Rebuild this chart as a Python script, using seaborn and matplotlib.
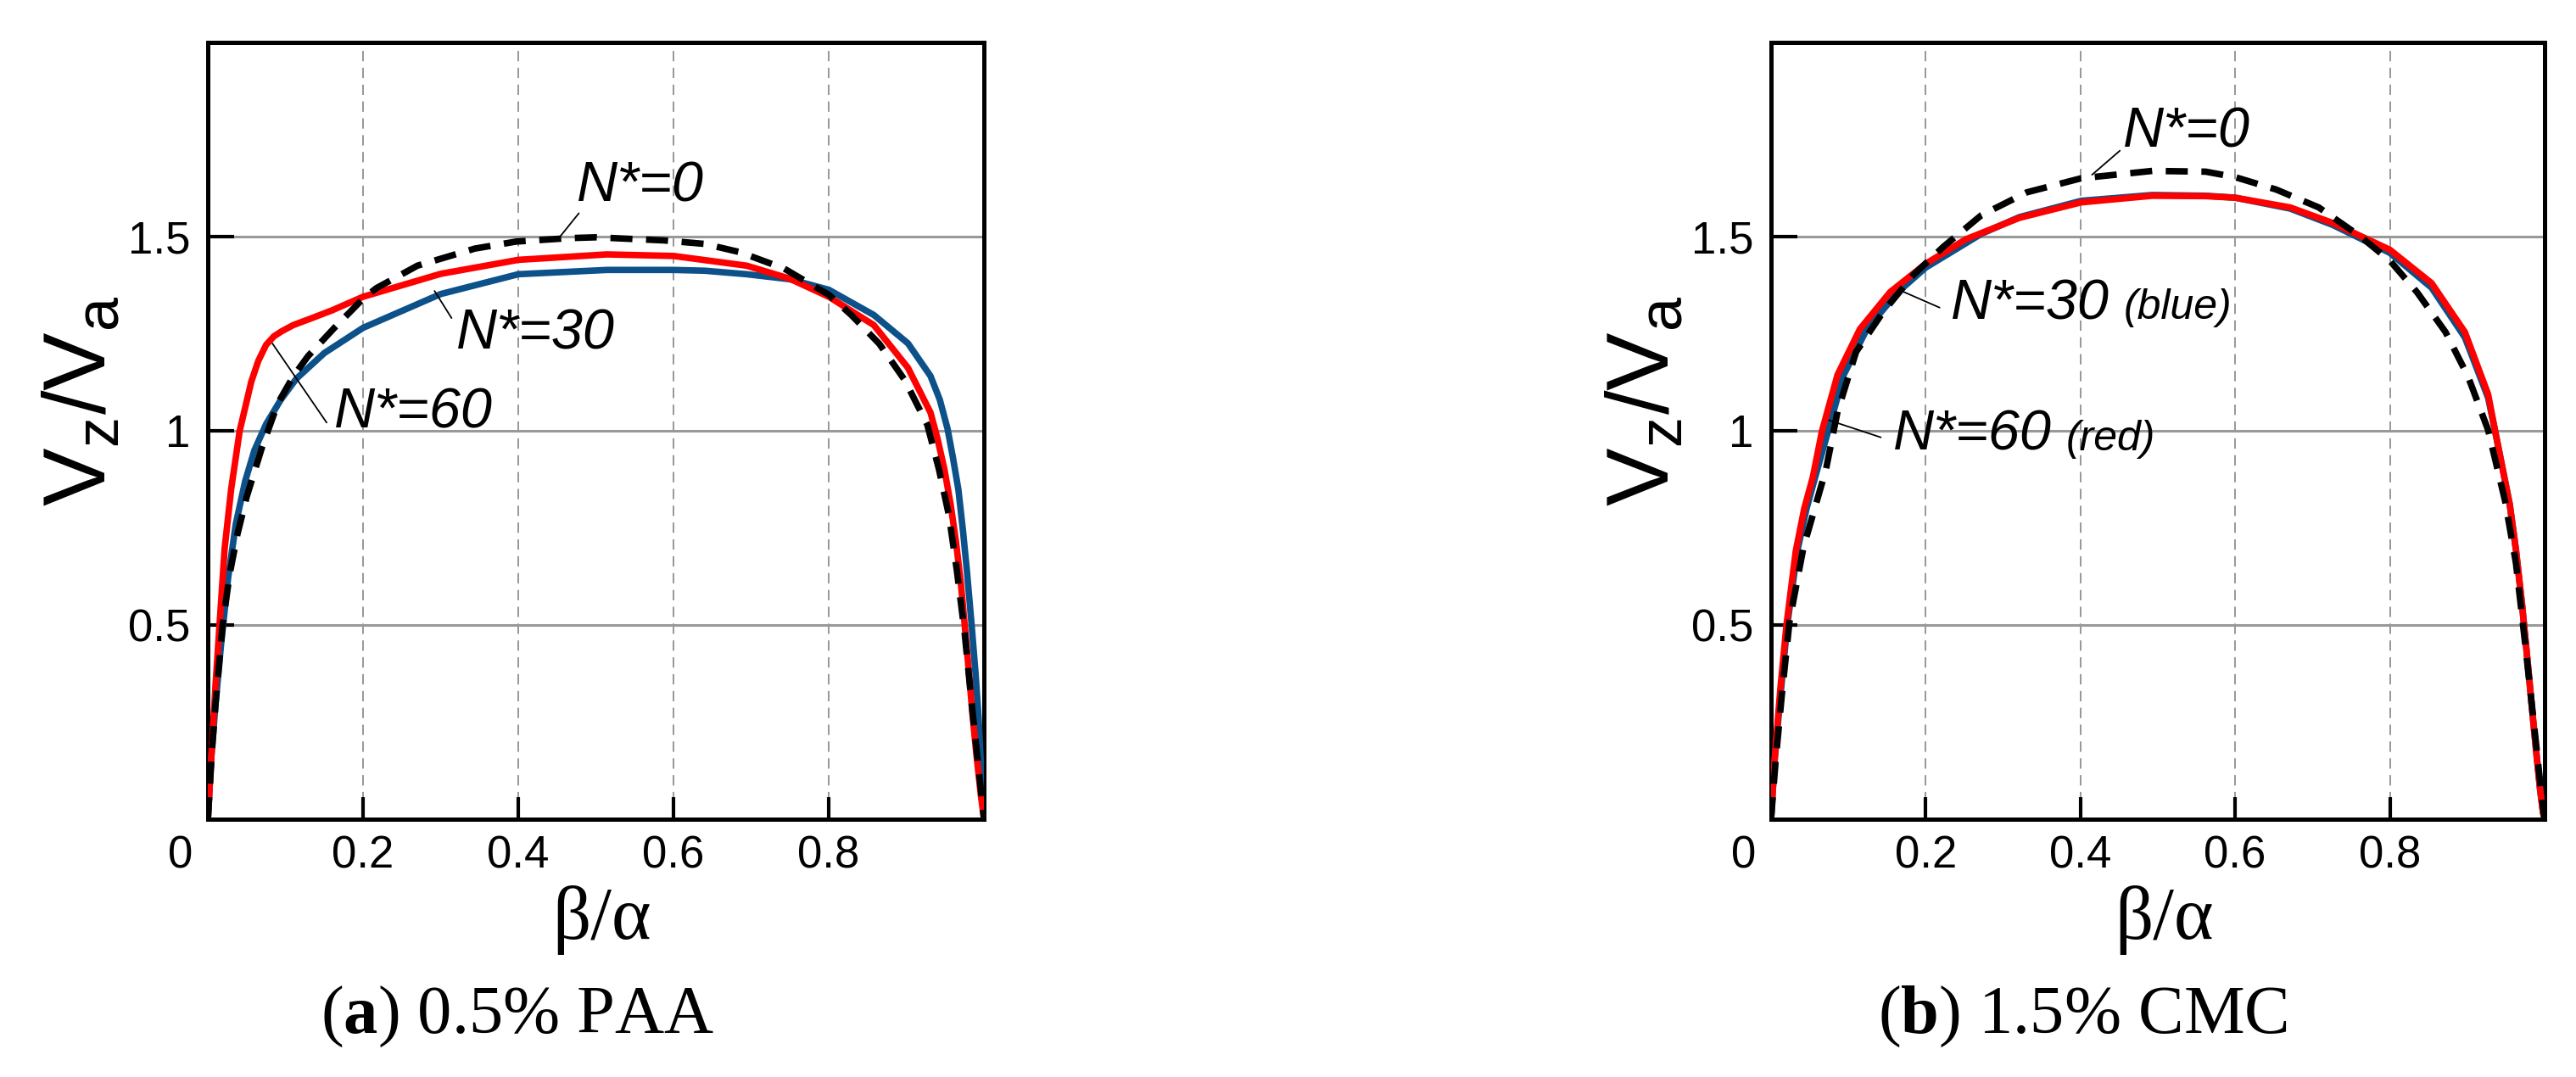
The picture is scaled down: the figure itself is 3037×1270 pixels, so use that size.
import matplotlib
matplotlib.use("Agg")
import matplotlib.pyplot as plt
import seaborn as sns

# ---- values ----
# (a) 0.5% PAA
paa_x_n0 = [0, 0.005, 0.01, 0.019, 0.028, 0.038, 0.05, 0.07, 0.09, 0.11, 0.129, 0.163, 0.2, 0.217,
            0.27, 0.344, 0.397, 0.466, 0.5, 0.588, 0.64, 0.685, 0.742, 0.8, 0.829, 0.865, 0.898,
            0.927, 0.942, 0.955, 0.965, 0.975, 0.985, 0.993, 1.0]
paa_y_n0 = [0, 0.17, 0.3, 0.5, 0.63, 0.733, 0.83, 0.959, 1.07, 1.14, 1.192, 1.265, 1.34, 1.367,
            1.425, 1.469, 1.487, 1.496, 1.498, 1.49, 1.481, 1.46, 1.418, 1.35, 1.298, 1.224, 1.13,
            1.015, 0.9, 0.78, 0.64, 0.48, 0.28, 0.13, 0]

paa_x_n30 = [0, 0.004, 0.01, 0.017, 0.026, 0.036, 0.048, 0.06, 0.075, 0.094, 0.114, 0.15, 0.2, 0.3,
             0.4, 0.514, 0.6, 0.64, 0.694, 0.75, 0.8, 0.858, 0.902, 0.931, 0.943, 0.953, 0.96, 0.967,
             0.973, 0.978, 0.984, 0.989, 0.993, 0.997, 1.0]
paa_y_n30 = [0, 0.15, 0.3, 0.45, 0.62, 0.76, 0.87, 0.95, 1.017, 1.08, 1.134, 1.2, 1.265, 1.352,
             1.403, 1.414, 1.414, 1.412, 1.403, 1.39, 1.363, 1.298, 1.225, 1.141, 1.08, 1.005, 0.93,
             0.848, 0.74, 0.638, 0.5, 0.377, 0.26, 0.1, 0]

paa_x_n60 = [0, 0.005, 0.01, 0.015, 0.0216, 0.03, 0.041, 0.056, 0.065, 0.075, 0.085, 0.095, 0.11,
             0.134, 0.16, 0.2, 0.3, 0.4, 0.514, 0.6, 0.694, 0.749, 0.8, 0.858, 0.902, 0.931, 0.94,
             0.949, 0.957, 0.964, 0.97, 0.975, 0.98, 0.985, 0.99, 0.996, 1.0]
paa_y_n60 = [0, 0.18, 0.35, 0.5, 0.697, 0.85, 1.0, 1.127, 1.18, 1.221, 1.243, 1.256, 1.272,
             1.29, 1.31, 1.345, 1.404, 1.44, 1.454, 1.45, 1.425, 1.392, 1.345, 1.272, 1.162, 1.047, 0.98,
             0.9, 0.81, 0.712, 0.61, 0.502, 0.39, 0.272, 0.17, 0.06, 0]

# (b) 1.5% CMC
cmc_x_n0 = [0, 0.006, 0.014, 0.024, 0.042, 0.071, 0.086, 0.11, 0.145, 0.184, 0.223, 0.272, 0.331,
            0.401, 0.493, 0.562, 0.6, 0.653, 0.708, 0.762, 0.8, 0.835, 0.872, 0.901, 0.927, 0.949,
            0.963, 0.975, 0.986, 0.994, 1.0]
cmc_y_n0 = [0, 0.15, 0.32, 0.51, 0.7, 0.9, 1.049, 1.203, 1.306, 1.401, 1.474, 1.555, 1.614,
            1.65, 1.669, 1.667, 1.653, 1.621, 1.575, 1.5, 1.438, 1.357, 1.254, 1.14, 1.002, 0.819,
            0.659, 0.45, 0.25, 0.1, 0]

cmc_x_n30 = [0, 0.005, 0.013, 0.021, 0.034, 0.046, 0.057, 0.074, 0.094, 0.124, 0.164, 0.2, 0.272,
             0.321, 0.401, 0.493, 0.562, 0.6, 0.671, 0.726, 0.8, 0.854, 0.897, 0.927, 0.936, 0.945,
             0.955, 0.963, 0.971, 0.978, 0.984, 0.989, 0.994, 0.998, 1.0]
cmc_y_n30 = [0, 0.16, 0.334, 0.5, 0.69, 0.8, 0.88, 1.0, 1.144, 1.262, 1.357, 1.42, 1.507,
             1.55, 1.592, 1.607, 1.605, 1.6, 1.572, 1.53, 1.458, 1.368, 1.24, 1.085, 1.0, 0.91,
             0.81, 0.693, 0.55, 0.407, 0.28, 0.178, 0.08, 0.017, 0]

cmc_x_n60 = [0, 0.005, 0.012, 0.02, 0.032, 0.043, 0.054, 0.066, 0.086, 0.115, 0.154, 0.2, 0.252,
             0.321, 0.401, 0.493, 0.562, 0.6, 0.671, 0.726, 0.8, 0.854, 0.897, 0.927, 0.936, 0.945,
             0.955, 0.963, 0.971, 0.978, 0.984, 0.989, 0.994, 0.998, 1.0]
cmc_y_n60 = [0, 0.16, 0.334, 0.5, 0.69, 0.8, 0.88, 1.0, 1.144, 1.262, 1.357, 1.43, 1.493,
             1.548, 1.588, 1.605, 1.604, 1.6, 1.575, 1.535, 1.466, 1.38, 1.254, 1.094, 1.0, 0.91,
             0.81, 0.693, 0.55, 0.407, 0.28, 0.178, 0.08, 0.017, 0]

x_ticks = [0.2, 0.4, 0.6, 0.8]
x_tick_labels = ["0.2", "0.4", "0.6", "0.8"]
y_ticks = [0.5, 1, 1.5]
y_tick_labels = ["0.5", "1", "1.5"]

sns.set_style("white")
plt.rcParams["font.family"] = ["Liberation Sans", "DejaVu Sans"]
plt.rcParams["text.color"] = "black"
plt.rcParams["axes.labelcolor"] = "black"
plt.rcParams["xtick.color"] = "black"
plt.rcParams["ytick.color"] = "black"
plt.rcParams["lines.solid_capstyle"] = "round"
plt.rcParams["lines.solid_joinstyle"] = "round"
plt.rcParams["mathtext.fontset"] = "custom"
plt.rcParams["mathtext.rm"] = "Liberation Serif"
plt.rcParams["mathtext.bf"] = "Liberation Serif:bold"
plt.rcParams["mathtext.sf"] = "Liberation Sans"

BLUE = "#0c5189"
RED = "#ff0000"
LW = 5.5

fig = plt.figure(figsize=(30.37, 12.7), dpi=100)
ax_a = fig.add_axes([0.0807, 0.2394, 0.3013, 0.7213])
ax_b = fig.add_axes([0.6875, 0.2394, 0.3003, 0.7213])


def style_axes(ax):
    ax.set_xlim(0, 1)
    ax.set_ylim(0, 2)
    ax.set_xticks(x_ticks)
    ax.set_xticklabels(x_tick_labels)
    ax.set_yticks(y_ticks)
    ax.set_yticklabels(y_tick_labels)
    ax.tick_params(direction="in", width=3, labelsize=38, color="black",
                   top=False, right=False, bottom=True, left=True)
    ax.tick_params(axis="x", pad=13, length=19)
    ax.tick_params(axis="y", pad=15, length=22)
    for s in ax.spines.values():
        s.set_linewidth(3.6)
        s.set_color("black")
    ax.xaxis.grid(True, color="#7a7a7a", lw=1.1, ls=(0, (8, 5)))
    ax.yaxis.grid(True, color="#999999", lw=2.2, ls="-")
    ax.set_axisbelow(True)
    ax.text(-0.035, -0.02, "0", transform=ax.transAxes, ha="center", va="top", fontsize=38)
    ax.set_xlabel("β/α", family="Liberation Serif", fontsize=64)
    ax.xaxis.set_label_coords(0.508, -0.154)
    ax.xaxis.label.set_va("baseline")
    ax.set_ylabel(r"$\mathsf{V_z/V_a}$", fontsize=74)
    ax.yaxis.set_label_coords(-0.108, 0.538)


def draw_curves(ax, x30, y30, x60, y60, x0, y0):
    sns.lineplot(x=x30, y=y30, ax=ax, color=BLUE, lw=LW, estimator=None, sort=False, zorder=3)
    sns.lineplot(x=x60, y=y60, ax=ax, color=RED, lw=LW, estimator=None, sort=False, zorder=4)
    sns.lineplot(x=x0, y=y0, ax=ax, color="black", lw=LW, estimator=None, sort=False,
                 ls=(0, (3.4, 2.1)), zorder=5)


def leader(ax, tip, start):
    ax.annotate("", xy=tip, xytext=start,
                arrowprops=dict(arrowstyle="-", color="black", lw=1.3, shrinkA=0, shrinkB=0))


draw_curves(ax_a, paa_x_n30, paa_y_n30, paa_x_n60, paa_y_n60, paa_x_n0, paa_y_n0)
draw_curves(ax_b, cmc_x_n30, cmc_y_n30, cmc_x_n60, cmc_y_n60, cmc_x_n0, cmc_y_n0)
for ax in (ax_a, ax_b):
    style_axes(ax)

lab = dict(fontsize=48, style="italic", ha="left", va="baseline", zorder=6)
small = dict(fontsize=36, style="italic", ha="left", va="bottom", zorder=6)

# panel (a) labels
ax_a.text(0.475, 1.59, "N*=0", **lab)
leader(ax_a, (0.453, 1.498), (0.478, 1.56))
ax_a.text(0.32, 1.21, "N*=30", **lab)
leader(ax_a, (0.292, 1.36), (0.314, 1.29))
ax_a.text(0.163, 1.007, "N*=60", **lab)
leader(ax_a, (0.083, 1.225), (0.153, 1.021))

# panel (b) labels
ax_b.text(0.455, 1.73, "N*=0", **lab)
leader(ax_b, (0.415, 1.659), (0.451, 1.721))
t30 = ax_b.text(0.233, 1.287, "N*=30", **lab)
ax_b.annotate("(blue)", xy=(1, 0), xycoords=t30, xytext=(12, 3), textcoords="offset points", **small)
leader(ax_b, (0.164, 1.364), (0.218, 1.317))
t60 = ax_b.text(0.158, 0.95, "N*=60", **lab)
ax_b.annotate("(red)", xy=(1, 0), xycoords=t60, xytext=(12, 3), textcoords="offset points", **small)
leader(ax_b, (0.069, 1.031), (0.142, 0.983))

for ax in (ax_a, ax_b):
    leg = ax.get_legend()
    if leg is not None:
        leg.remove()

fig.text(0.2009, 0.041, r"($\mathbf{a}$) 0.5% PAA", family="Liberation Serif",
         fontsize=58, ha="center", va="baseline")
fig.text(0.8084, 0.041, r"($\mathbf{b}$) 1.5% CMC", family="Liberation Serif",
         fontsize=58, ha="center", va="baseline")

fig.savefig("out.png", dpi=100, facecolor="white")
